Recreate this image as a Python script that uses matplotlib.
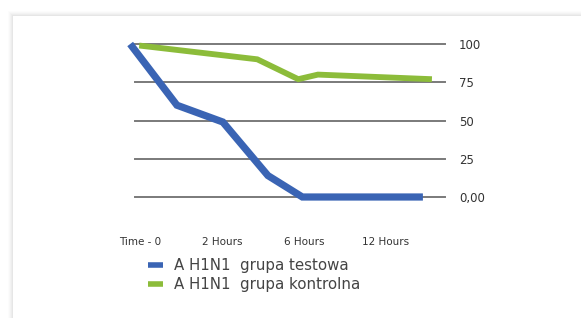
import matplotlib.pyplot as plt
from matplotlib.patches import Rectangle

# categories on the x axis
categories = ["Time - 0", "2 Hours", "6 Hours", "12 Hours"]
y_ticks = [0, 25, 50, 75, 100]
y_labels = ["0,00", "25", "50", "75", "100"]

# series (x in category units, y in %)
test_x = [-0.12, 0.45, 1.01, 1.56, 1.98, 3.45]
test_y = [100, 60, 49, 14, 0, 0]
ctrl_x = [-0.01, 1.43, 1.93, 2.17, 3.56]
ctrl_y = [99, 90, 77, 80, 77]

labels = ["A H1N1  grupa testowa", "A H1N1  grupa kontrolna"]
blue = "#3a64b4"
green = "#8cbc3a"

fig = plt.figure(figsize=(5.81, 3.18), dpi=100)
fig.patch.set_facecolor("white")

# soft shadowed card
W, H = 581, 318
for i, a in enumerate([0.012, 0.015, 0.018, 0.022, 0.028]):
    off = 5 - i
    fig.add_artist(Rectangle(((13 - off) / W, 0), 1, (H - 16 + off) / H,
                             transform=fig.transFigure, facecolor="black",
                             alpha=a, edgecolor="none", zorder=0))
fig.add_artist(Rectangle((13 / W, 0), 1, (H - 16) / H, transform=fig.transFigure,
                         facecolor="white", edgecolor="none", zorder=0))

# axes area: x 135..445 px, y 44..197 px
ax = fig.add_axes([135 / W, (H - 197) / H, (445 - 135) / W, (197 - 44) / H])
ax.set_facecolor("none")
ax.set_zorder(2)

# category positions: Time-0 at 140 px, 82 px step
px_per_cat = 82
ax.set_xlim((135 - 140) / px_per_cat, (445 - 140) / px_per_cat)
ax.set_ylim(0, 100)

for t in y_ticks:
    ax.axhline(t, color="#7a7a7a", lw=1.4, zorder=1, clip_on=False)

ax.plot(test_x, test_y, color=blue, lw=5.2, solid_joinstyle="miter",
        solid_capstyle="butt", zorder=3, clip_on=False, label=labels[0])
ax.plot(ctrl_x, ctrl_y, color=green, lw=4.2, solid_joinstyle="miter",
        solid_capstyle="butt", zorder=3, clip_on=False, label=labels[1])

for s in ax.spines.values():
    s.set_visible(False)
ax.yaxis.tick_right()
ax.set_yticks(y_ticks)
ax.set_yticklabels(y_labels)
ax.tick_params(axis="y", length=0, pad=10, labelsize=8.5, labelcolor="#333333")
ax.set_xticks(range(len(categories)))
ax.set_xticklabels(categories)
ax.tick_params(axis="x", length=0, pad=29, labelsize=7.5, labelcolor="#333333")

leg = fig.legend(loc="upper left", bbox_to_anchor=(148 / W, 1 - 258 / H),
                 frameon=False, fontsize=10.8, handlelength=1.0, handletextpad=0.75,
                 labelspacing=0.25, borderaxespad=0, borderpad=0)
for line in leg.get_lines():
    line.set_linewidth(4)
for t in leg.get_texts():
    t.set_color("#444444")

fig.savefig("out.png", dpi=100)
